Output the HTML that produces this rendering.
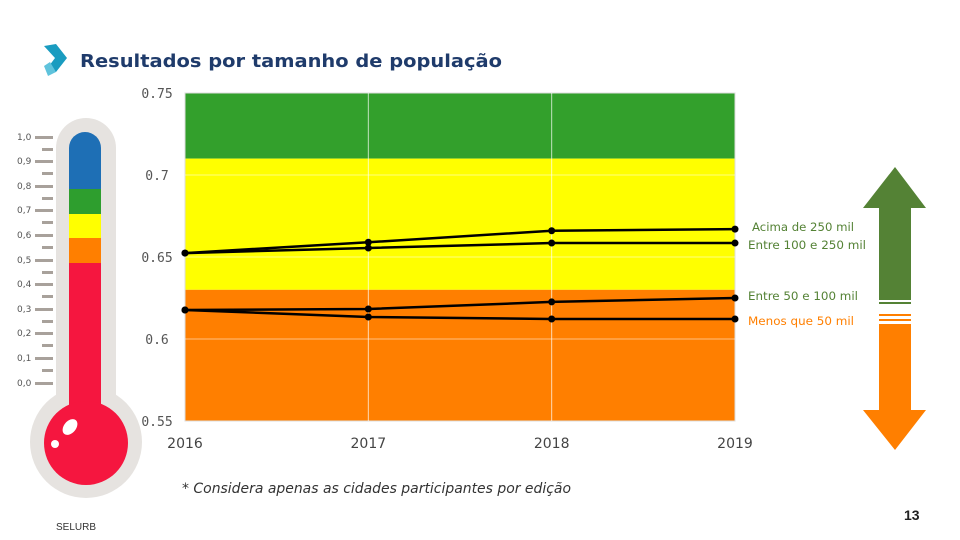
<!DOCTYPE html>
<html><head><meta charset="utf-8"><style>
body{margin:0;width:960px;height:540px;background:#fff;overflow:hidden;position:relative;font-family:"Liberation Sans",sans-serif}
</style></head><body>
<svg width="960" height="540" style="position:absolute;left:0;top:0">
<g>
<path d="M44 46 L56 44 L67 58 L56 72 L46 70 L55 58 Z" fill="#1a9cc0"/>
<path d="M44 66 L50 62 L56 72 L48 76 Z" fill="#5fc3dc"/>
</g>
<text x="80" y="67" font-size="18" font-weight="bold" fill="#1f3b6b" font-family="DejaVu Sans, sans-serif" textLength="422" lengthAdjust="spacingAndGlyphs">Resultados por tamanho de população</text>
<g>
<rect x="56" y="118" width="60" height="310" rx="30" fill="#e6e3e0"/>
<circle cx="86" cy="442" r="56" fill="#e6e3e0"/>
<rect x="69" y="132" width="32" height="300" rx="16" fill="#1e6fb5"/>
<rect x="69" y="189" width="32" height="25" fill="#2e9e2e"/>
<rect x="69" y="214" width="32" height="24" fill="#ffff00"/>
<rect x="69" y="238" width="32" height="25" fill="#ff7f00"/>
<rect x="69" y="263" width="32" height="170" fill="#f5163f"/>
<circle cx="86" cy="443" r="42" fill="#f5163f"/>
<ellipse cx="70" cy="427" rx="6" ry="9" transform="rotate(40 70 427)" fill="#fff"/>
<circle cx="55" cy="444" r="4" fill="#fff"/>
<g font-size="9" fill="#555" font-family="DejaVu Sans, sans-serif">
<text x="17" y="140">1,0</text><text x="17" y="164">0,9</text><text x="17" y="189">0,8</text><text x="17" y="213">0,7</text><text x="17" y="238">0,6</text><text x="17" y="263">0,5</text><text x="17" y="287">0,4</text><text x="17" y="312">0,3</text><text x="17" y="336">0,2</text><text x="17" y="361">0,1</text><text x="17" y="386">0,0</text>
</g>
<g fill="#a8a19b">
<rect x="35" y="136" width="18" height="3"/><rect x="42" y="148" width="11" height="3"/>
<rect x="35" y="160" width="18" height="3"/><rect x="42" y="172" width="11" height="3"/>
<rect x="35" y="185" width="18" height="3"/><rect x="42" y="197" width="11" height="3"/>
<rect x="35" y="209" width="18" height="3"/><rect x="42" y="221" width="11" height="3"/>
<rect x="35" y="234" width="18" height="3"/><rect x="42" y="246" width="11" height="3"/>
<rect x="35" y="259" width="18" height="3"/><rect x="42" y="271" width="11" height="3"/>
<rect x="35" y="283" width="18" height="3"/><rect x="42" y="295" width="11" height="3"/>
<rect x="35" y="308" width="18" height="3"/><rect x="42" y="320" width="11" height="3"/>
<rect x="35" y="332" width="18" height="3"/><rect x="42" y="344" width="11" height="3"/>
<rect x="35" y="357" width="18" height="3"/><rect x="42" y="369" width="11" height="3"/>
<rect x="35" y="382" width="18" height="3"/>
</g>
</g>
<g id="chart"></g>
<g>
<polygon points="863,208 895,167 926,208 911,208 911,300 879,300 879,208" fill="#548235"/>
<rect x="879" y="302" width="32" height="2" fill="#548235"/>
</g>
<g>
<rect x="879" y="314" width="32" height="2" fill="#ff7f00"/>
<rect x="879" y="319" width="32" height="2" fill="#ff7f00"/>
<polygon points="879,324 911,324 911,410 926,410 895,450 863,410 879,410" fill="#ff7f00"/>
</g>
<text x="182" y="493" font-size="14" font-style="italic" fill="#333" font-family="DejaVu Sans, sans-serif" textLength="389" lengthAdjust="spacingAndGlyphs">* Considera apenas as cidades participantes por edição</text>
<text x="56" y="530" font-size="10" fill="#333" font-family="Liberation Sans">SELURB</text>
<text x="904" y="520" font-size="14" font-weight="bold" fill="#222" font-family="Liberation Sans">13</text>
</svg>
<script>
const years=["2016","2017","2018","2019"];
const yTicks=[0.75,0.7,0.65,0.6,0.55];
const seriesNames=["Acima de 250 mil","Entre 100 e 250 mil","Entre 50 e 100 mil","Menos que 50 mil"];
const acima=[0.6524,0.659,0.666,0.667];
const entre100=[0.6524,0.6555,0.6585,0.6585];
const entre50=[0.6177,0.6183,0.6226,0.625];
const menos=[0.6177,0.6134,0.6122,0.6122];
const bands=[[0.71,0.75,"#33a02c"],[0.63,0.71,"#ffff00"],[0.55,0.63,"#ff7f00"]];
const labelColors=["#548235","#548235","#548235","#ff7f00"];
const labelOffsets=[-2,2,-2,2];
const NS="http://www.w3.org/2000/svg";
const g=document.getElementById('chart');
const X0=185,X1=735,Y0=93,Y1=421;
const x=i=>X0+i*(X1-X0)/(years.length-1);
const y=v=>Y0+(0.75-v)/(0.2)*(Y1-Y0);
function mk(t,a){const e=document.createElementNS(NS,t);for(const k in a)e.setAttribute(k,a[k]);g.appendChild(e);return e;}
bands.forEach(b=>{const r=mk('rect',{x:X0,y:y(b[1]),width:X1-X0,height:y(b[0])-y(b[1]),fill:b[2]});

});
mk('rect',{x:X0,y:Y0,width:X1-X0,height:Y1-Y0,fill:'none',stroke:'#ddd'});
yTicks.forEach(v=>{if(v<0.75&&v>0.55){const l=mk('line',{x1:X0,x2:X1,y1:y(v),y2:y(v),stroke:'#fff','stroke-opacity':0.5});}
const t=mk('text',{x:157,y:y(v)+5,'font-size':13,fill:'#555','text-anchor':'middle','font-family':'DejaVu Sans Mono, Liberation Mono, monospace'});t.textContent=String(v);

});
years.forEach((yr,i)=>{if(i>0&&i<years.length-1){const l=mk('line',{x1:x(i),x2:x(i),y1:Y0,y2:Y1,stroke:'#fff','stroke-opacity':0.7});}
const t=mk('text',{x:x(i),y:448,'font-size':14,fill:'#444','text-anchor':'middle','font-family':'DejaVu Sans, sans-serif'});t.textContent=yr;

});
[acima,entre100,entre50,menos].forEach((s,k)=>{
const p=mk('polyline',{points:s.map((v,i)=>x(i)+','+y(v)).join(' '),fill:'none',stroke:'#000','stroke-width':2.5});


s.forEach((v,i)=>{const c=mk('circle',{cx:x(i),cy:y(v),r:3.5,fill:'#000'});

});
const t=mk('text',{x:748+(k==0?4:0),y:y(s[3])+labelOffsets[k]+4,'font-size':11.5,fill:labelColors[k],'font-family':'DejaVu Sans Condensed, Liberation Sans Narrow, sans-serif','textLength':k==0?102:k==1?118:k==2?110:106,'lengthAdjust':'spacingAndGlyphs'});
t.textContent=seriesNames[k];

});
</script>
</body></html>
